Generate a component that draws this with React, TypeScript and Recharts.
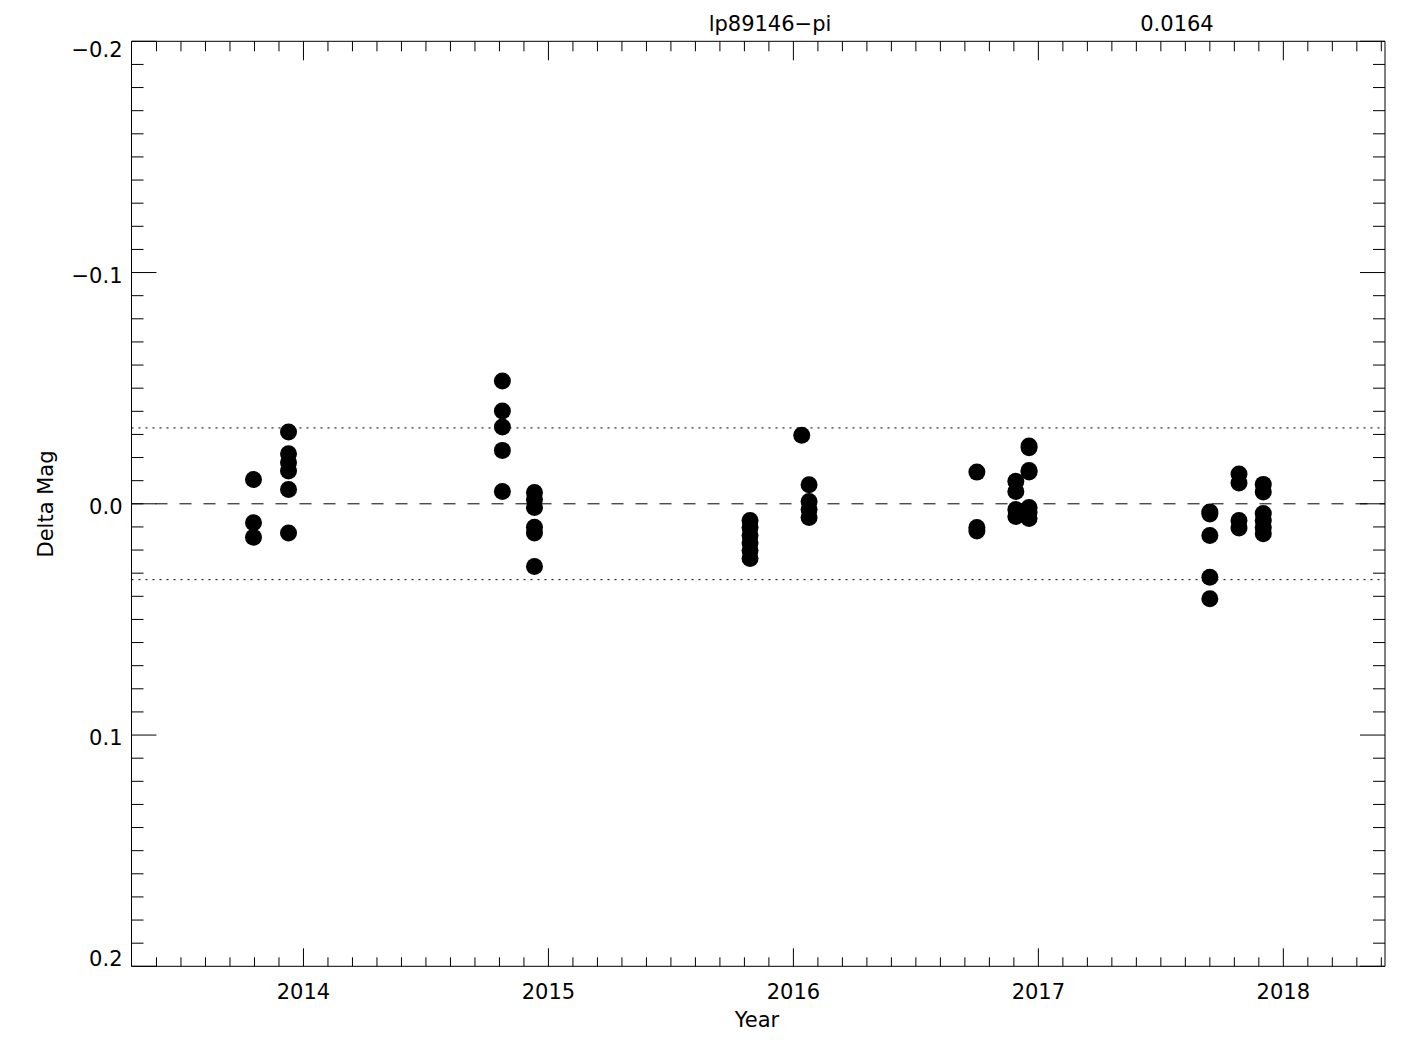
import {
  ScatterChart,
  Scatter,
  XAxis,
  YAxis,
  ReferenceLine,
} from "recharts";

// observing epochs (decimal year) and the delta mags measured at each
const nightYears = [
  2013.796, 2013.939, 2014.812, 2014.943, 2015.823, 2016.034, 2016.064,
  2016.749, 2016.908, 2016.962, 2017.7, 2017.819, 2017.918,
];

const nightMags = [
  [-0.0105, 0.0082, 0.0145],
  [-0.031, -0.0216, -0.0179, -0.0142, -0.0062, 0.0126],
  [-0.0531, -0.0401, -0.0332, -0.0231, -0.0053],
  [-0.0049, -0.0019, 0.0016, 0.0101, 0.0126, 0.0271],
  [0.0072, 0.0103, 0.0137, 0.0168, 0.0202, 0.0237],
  [-0.0296],
  [-0.0082, -0.001, 0.0025, 0.0059],
  [-0.0137, 0.0103, 0.0118],
  [-0.0097, -0.0053, 0.0025, 0.0055],
  [-0.025, -0.0242, -0.0144, -0.0138, 0.0016, 0.0038, 0.0064],
  [0.0035, 0.0044, 0.0137, 0.0318, 0.0411],
  [-0.0129, -0.009, 0.0072, 0.0105],
  [-0.0084, -0.0051, 0.0042, 0.0072, 0.0103, 0.0129],
];

const TITLE = "lp89146\u2212pi";
const SIGMA = 0.0164;

const yearTicks = [2014, 2015, 2016, 2017, 2018];
const magTicks = [-0.2, -0.1, 0.0, 0.1, 0.2];
const X_DOMAIN: [number, number] = [2013.298, 2018.415];
const Y_DOMAIN: [number, number] = [-0.2, 0.2];

// minor ticks: tenth of a year, hundredth of a mag
const xMinor: number[] = [];
for (let i = 20134; i <= 20184; i++) xMinor.push(i / 10);
const yMinor: number[] = [];
for (let i = -20; i <= 20; i++) yMinor.push(i / 100);

const points = nightYears.flatMap((yr, i) =>
  nightMags[i].map((m) => ({ year: yr, mag: m }))
);

const FONT = "'DejaVu Sans', sans-serif";
const FS = 21;

const isMajorX = (v: number) => yearTicks.some((t) => Math.abs(t - v) < 1e-6);
const isMajorY = (v: number) => magTicks.some((t) => Math.abs(t - v) < 1e-6);

function fmtMag(v: number): string {
  const s = Math.abs(v).toFixed(1);
  return v < -1e-9 ? `\u2212${s}` : s;
}

function BottomTick(props: any) {
  const { x, y, payload } = props;
  const major = isMajorX(payload.value);
  return (
    <g>
      <line x1={x} x2={x} y1={y} y2={y - (major ? 18 : 9)} stroke="#000" />
      {major && (
        <text x={x} y={y + 33} textAnchor="middle" fontFamily={FONT} fontSize={FS} fill="#000">
          {Math.round(payload.value)}
        </text>
      )}
    </g>
  );
}

function TopTick(props: any) {
  const { x, y, payload } = props;
  const major = isMajorX(payload.value);
  return <line x1={x} x2={x} y1={y} y2={y + (major ? 19 : 10)} stroke="#000" />;
}

function LeftTick(props: any) {
  const { x, y, payload } = props;
  const v = payload.value;
  const major = isMajorY(v);
  let off = 10;
  if (Math.abs(v + 0.2) < 1e-6) off = 16;
  if (Math.abs(v - 0.2) < 1e-6) off = 0;
  return (
    <g>
      <line x1={x} x2={x + (major ? 25 : 12)} y1={y} y2={y} stroke="#000" />
      {major && (
        <text x={x - 9} y={y + off} textAnchor="end" fontFamily={FONT} fontSize={FS} fill="#000">
          {fmtMag(v)}
        </text>
      )}
    </g>
  );
}

function RightTick(props: any) {
  const { x, y, payload } = props;
  const major = isMajorY(payload.value);
  return <line x1={x} x2={x - (major ? 25 : 12)} y1={y} y2={y} stroke="#000" />;
}

function Dot(props: any) {
  const { cx, cy } = props;
  return <circle cx={cx} cy={cy} r={8.5} fill="#000" />;
}

export default function App() {
  const W = 1425;
  const H = 1050;
  return (
    <div style={{ position: "absolute", left: 0, top: 0, width: W, height: H, background: "#fff" }}>
      <ScatterChart
        width={W}
        height={H}
        margin={{ top: 40.3, right: 39, bottom: 23.7, left: 31.5 }}
      >
        <XAxis
          xAxisId="b"
          dataKey="year"
          type="number"
          domain={X_DOMAIN}
          allowDataOverflow
          ticks={xMinor}
          interval={0}
          height={60}
          tickLine={false}
          tickSize={0}
          tickMargin={0}
          axisLine={{ stroke: "#000" }}
          tick={<BottomTick />}
        />
        <XAxis
          xAxisId="t"
          orientation="top"
          dataKey="year"
          type="number"
          domain={X_DOMAIN}
          allowDataOverflow
          ticks={xMinor}
          interval={0}
          height={1}
          tickLine={false}
          tickSize={0}
          tickMargin={0}
          axisLine={{ stroke: "#000" }}
          tick={<TopTick />}
        />
        <YAxis
          yAxisId="l"
          dataKey="mag"
          type="number"
          domain={Y_DOMAIN}
          reversed
          allowDataOverflow
          ticks={yMinor}
          interval={0}
          width={100}
          tickLine={false}
          tickSize={0}
          tickMargin={0}
          axisLine={{ stroke: "#000" }}
          tick={<LeftTick />}
        />
        <YAxis
          yAxisId="r"
          orientation="right"
          dataKey="mag"
          type="number"
          domain={Y_DOMAIN}
          reversed
          allowDataOverflow
          ticks={yMinor}
          interval={0}
          width={1}
          tickLine={false}
          tickSize={0}
          tickMargin={0}
          axisLine={{ stroke: "#000" }}
          tick={<RightTick />}
        />
        <ReferenceLine xAxisId="b" yAxisId="l" y={0} stroke="#000" strokeDasharray="12 12" />
        <ReferenceLine xAxisId="b" yAxisId="l" y={-2 * SIGMA} stroke="#000" strokeDasharray="2 5" />
        <ReferenceLine xAxisId="b" yAxisId="l" y={2 * SIGMA} stroke="#000" strokeDasharray="2 5" />
        <Scatter
          xAxisId="b"
          yAxisId="l"
          data={points}
          shape={<Dot />}
          isAnimationActive={false}
        />
      </ScatterChart>
      <svg
        width={W}
        height={H}
        style={{ position: "absolute", left: 0, top: 0, pointerEvents: "none" }}
      >
        <g fontFamily={FONT} fontSize={FS} fill="#000">
          <text x={770} y={31} textAnchor="middle">{TITLE}</text>
          <text x={1177} y={31} textAnchor="middle">{SIGMA.toFixed(4)}</text>
          <text x={757} y={1027} textAnchor="middle">Year</text>
          <text x={53} y={504} textAnchor="middle" transform="rotate(-90 53 504)">
            Delta Mag
          </text>
        </g>
      </svg>
    </div>
  );
}
